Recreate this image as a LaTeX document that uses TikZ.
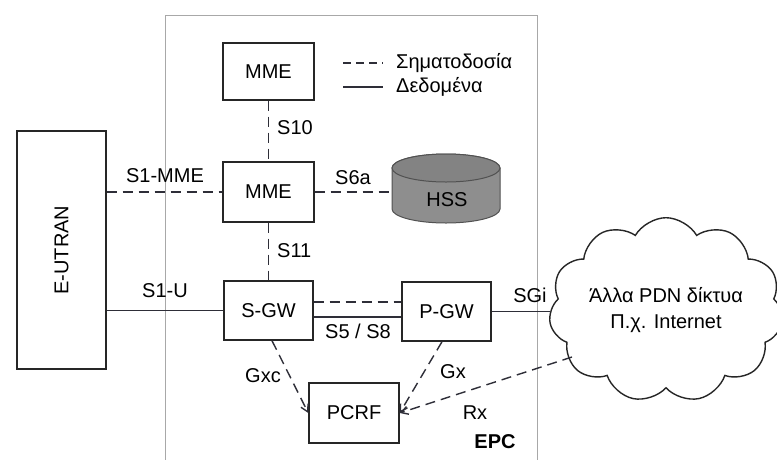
\documentclass[tikz,border=0pt]{standalone}
\usepackage{fontspec}
\setmainfont{Liberation Sans}
\usetikzlibrary{shapes.symbols,arrows.meta,calc}

\definecolor{inkline}{HTML}{2E2E38}
\definecolor{boxline}{HTML}{262626}
\definecolor{framegray}{HTML}{A8A8A8}
\definecolor{hssgray}{HTML}{8E8E8E}

\tikzset{
  elem/.style={draw=boxline, line width=1.4pt, fill=white, minimum width=90pt,
    minimum height=58pt, inner sep=0pt, font=\fontsize{20}{24}\selectfont},
  sig/.style={draw=inkline, line width=1.4pt, dash pattern=on 10pt off 6pt},
  dat/.style={draw=inkline, line width=1.4pt},
  sigarrow/.style={sig, -{Straight Barb[length=7pt,width=8pt]}},
  lbl/.style={font=\fontsize{20}{24}\selectfont, inner sep=0pt},
}

\begin{document}
\begin{tikzpicture}[x=1pt,y=-1pt]
  \useasboundingbox (0,0) rectangle (777,459);
  \clip (0,0) rectangle (777,459);
  \fill[white] (0,0) rectangle (777,459);

  % EPC frame (open towards the bottom edge)
  \draw[framegray, line width=0.9pt] (165,470) -- (165,15) -- (537,15) -- (537,470);
  \node[lbl, font=\fontsize{20}{24}\selectfont\bfseries] (epc) at (495,442) {EPC};

  % Network elements
  \node[elem, minimum width=91pt, minimum height=57pt] (mmea) at (268.5,71.5) {MME};
  \node[elem, minimum width=91pt, minimum height=60pt] (mmeb) at (268.5,192) {MME};
  \node[elem, minimum width=89pt, minimum height=59pt] (sgw) at (268.5,310.5) {S-GW};
  \node[elem, minimum width=89pt, minimum height=59pt] (pgw) at (446.5,311.5) {P-GW};
  \node[elem, minimum width=90pt, minimum height=60pt] (pcrf) at (354,413) {PCRF};
  \node[elem, minimum width=89pt, minimum height=238pt] (eutran) at (61.5,250)
    {\rotatebox{90}{E-UTRAN}};

  % HSS database cylinder
  \draw[boxline!80, line width=1pt, fill=hssgray]
    (392,168) -- (392,209)
    arc[start angle=180, end angle=360, x radius=54pt, y radius=14pt]
    -- (500,168)
    arc[start angle=0, end angle=180, x radius=54pt, y radius=14pt] -- cycle;
  \draw[boxline!80, line width=1pt, fill=hssgray!92!black]
    (446,168) ellipse[x radius=54pt, y radius=14pt];
  \node[lbl, minimum width=108pt, minimum height=69pt] (hss) at (446,189) {};
  \node[lbl] (hsslabel) at (447,200) {HSS};

  % External packet networks
  \node[cloud, cloud puffs=11, cloud puff arc=120, aspect=1.4, draw=boxline,
    line width=1.4pt, fill=white, minimum width=221pt, minimum height=160pt,
    inner sep=0pt, align=center, font=\fontsize{20}{24}\selectfont] (pdn) at (666,310)
    {Άλλα PDN δίκτυα\\[2pt]Π.χ. Internet};
  \coordinate (rxstart) at (572,357);

  % Signalling interfaces
  \draw[sig] (mmea.south) -- (mmeb.north);
  \draw[sig] (eutran.east |- mmeb.west) -- (mmeb.west);
  \draw[sig] (mmeb.east) -- (mmeb.east -| hss.west);
  \draw[sig] (mmeb.south) -- (sgw.north);
  \draw[sig] ([yshift=8.5pt]sgw.east) -- ([yshift=8.5pt]sgw.east -| pgw.west);
  \draw[sigarrow] ([xshift=3.5pt]sgw.south) -- (pcrf.west);
  \draw[sigarrow] ([xshift=-4.5pt]pgw.south) -- (pcrf.east);
  \draw[sigarrow] (rxstart) -- (pcrf.east);

  % User-plane interfaces
  \draw[dat] (eutran.east |- sgw.west) -- (sgw.west);
  \draw[dat] ([yshift=-6.5pt]sgw.east) -- ([yshift=-6.5pt]sgw.east -| pgw.west);
  \draw[dat] (pgw.east) -- (pgw.east -| pdn.west);

  % Interface labels
  \node[lbl, anchor=west] (ls10) at (277,128) {S10};
  \node[lbl] (ls1mme) at (165,176) {S1-MME};
  \node[lbl] (ls6a) at (353,178) {S6a};
  \node[lbl, anchor=west] (ls11) at (277,251) {S11};
  \node[lbl] (ls1u) at (165,291) {S1-U};
  \node[lbl] (ls5) at (358,331) {S5 / S8};
  \node[lbl] (lsgi) at (530,295) {SGi};
  \node[lbl] (lgxc) at (263,376) {Gxc};
  \node[lbl] (lgx) at (453,372) {Gx};
  \node[lbl] (lrx) at (475,413) {Rx};

  % Legend
  \coordinate (lga) at (343,63);
  \coordinate (lgb) at (383,63);
  \coordinate (lgc) at (343,87);
  \coordinate (lgd) at (383,87);
  \draw[sig, dash pattern=on 8pt off 5pt] (lga) -- (lgb);
  \draw[dat] (lgc) -- (lgd);
  \node[lbl, anchor=west] (lgsig) at (396,63) {Σηματοδοσία};
  \node[lbl, anchor=west] (lgdat) at (396,87) {Δεδομένα};
\end{tikzpicture}
\end{document}
